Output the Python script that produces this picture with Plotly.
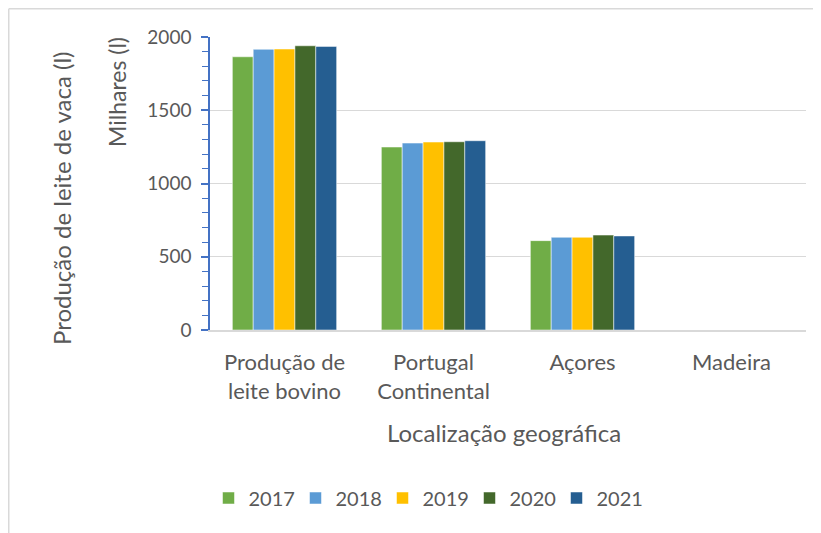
import plotly.graph_objects as go

categories = ["Produção de<br>leite bovino", "Portugal<br>Continental", "Açores", "Madeira"]
years = ["2017", "2018", "2019", "2020", "2021"]
values = {
    "2017": [1865, 1249, 610, 0],
    "2018": [1916, 1276, 633, 0],
    "2019": [1918, 1283, 633, 0],
    "2020": [1940, 1285, 648, 0],
    "2021": [1936, 1292, 642, 0],
}
colors = {
    "2017": "#70AD47",
    "2018": "#5B9BD5",
    "2019": "#FFC000",
    "2020": "#43682B",
    "2021": "#255E91",
}
y_ticks = [0, 500, 1000, 1500, 2000]

OFF = 8  # page body margin
W, H = 821 - OFF, 533 - OFF
# target page coords of plot area: x 210..806, y 37..330
L = 210 - OFF
T = 37 - OFF
R = W - (806 - OFF)
B = H - (330 - OFF)
pw = W - L - R
ph = H - T - B

def px(x):
    return (x - OFF - L) / pw

def py(y):
    return (H - B - (y - OFF)) / ph

FONT = "Lato"
GREY = "#595959"

fig = go.Figure()
for yr in years:
    fig.add_trace(go.Bar(
        x=categories, y=values[yr], name=yr,
        marker=dict(color=colors[yr], line=dict(color="rgba(255,255,255,0.5)", width=1)),
    ))

fig.update_layout(
    width=W, height=H,
    margin=dict(l=L, r=R, t=T, b=B),
    paper_bgcolor="white", plot_bgcolor="white",
    barmode="group", bargap=0.30, bargroupgap=0,
    font=dict(family=FONT, color=GREY, size=18),
    showlegend=True,
    legend=dict(
        orientation="h", x=px(426), y=py(498), xanchor="center", yanchor="middle",
        font=dict(size=20, color=GREY, family=FONT),
        entrywidth=42, entrywidthmode="pixels", traceorder="normal",
    ),
    xaxis=dict(
        showgrid=False, showline=True, linecolor="#D9D9D9", linewidth=2,
        ticks="", tickfont=dict(size=22, color=GREY), ticklabelstandoff=12,
    ),
    yaxis=dict(
        range=[0, 2000], tickvals=y_ticks, showgrid=True, gridcolor="#D9D9D9", gridwidth=1,
        zeroline=False, showline=True, linecolor="#4472C4", linewidth=1.5,
        ticks="outside", ticklen=7, tickcolor="#4472C4", tickwidth=1.5,
        minor=dict(dtick=100, ticks="outside", ticklen=6, tickcolor="#4472C4", tickwidth=1, showgrid=False),
        tickfont=dict(size=19, color=GREY), ticklabelstandoff=6,
    ),
    annotations=[
        dict(text="Localização geográfica", xref="paper", yref="paper", x=px(504), y=py(432),
             xanchor="center", yanchor="middle", showarrow=False, font=dict(size=24, color=GREY)),
        dict(text="Produção de leite de vaca (l)", xref="paper", yref="paper", x=px(61), y=py(199),
             xanchor="center", yanchor="middle", textangle=-90, showarrow=False, font=dict(size=24, color=GREY)),
        dict(text="Milhares (l)", xref="paper", yref="paper", x=px(117), y=py(92),
             xanchor="center", yanchor="middle", textangle=-90, showarrow=False, font=dict(size=23, color=GREY)),
    ],
    shapes=[
        dict(type="line", xref="paper", yref="paper", x0=px(OFF + 0.75), x1=px(840), y0=py(OFF + 0.75), y1=py(OFF + 0.75),
             line=dict(color="#D9D9D9", width=1.5)),
        dict(type="line", xref="paper", yref="paper", x0=px(OFF + 0.75), x1=px(OFF + 0.75), y0=py(OFF + 0.75), y1=py(560),
             line=dict(color="#D9D9D9", width=1.5)),
    ],
)

fig.write_html("out.html")
